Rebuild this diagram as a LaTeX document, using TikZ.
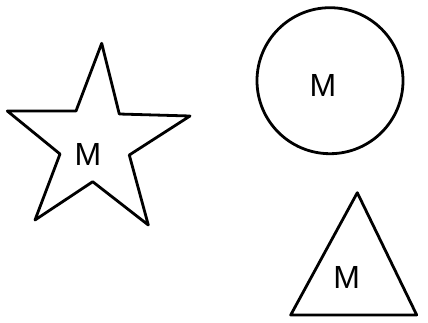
\documentclass[tikz,border=0pt]{standalone}
\usepackage{fontspec}
\setsansfont{Liberation Sans}
\tikzset{
  outline/.style = {draw, line width=2.8pt, line join=round, fill=white},
  letter/.style  = {font=\sffamily\fontsize{32}{34}\selectfont, inner sep=0pt}
}

\begin{document}
\begin{tikzpicture}[x=1pt, y=-1pt]
		\useasboundingbox (0,0) rectangle (428,322);
		% star
		\draw[outline] (101.7,43.3) -- (119.3,114) -- (190,116) -- (129.3,155)
			-- (148.3,225) -- (92.7,181.7) -- (35,220) -- (60,154)
			-- (7.3,111) -- (76,111) -- cycle;
		\node[letter] (starM) at (88,154) {M};
		% circle
		\draw[outline] (330,80.7) circle (73);
		\node[letter] (circM) at (323,85) {M};
		% triangle
		\draw[outline] (357.3,192.7) -- (416.7,315) -- (290.7,315) -- cycle;
		\node[letter] (triM) at (346.7,277) {M};
	\end{tikzpicture}
\end{document}
